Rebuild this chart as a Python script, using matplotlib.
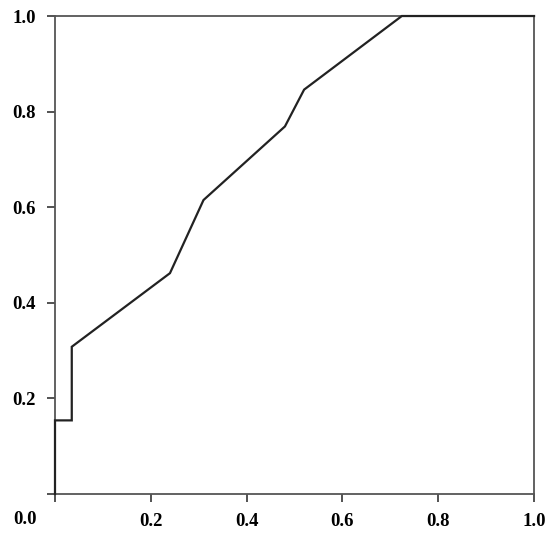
import matplotlib
matplotlib.use("Agg")
import matplotlib.pyplot as plt

fpr = [0.0, 0.0, 0.035, 0.035, 0.24, 0.31, 0.48, 0.52, 0.724, 1.0]
tpr = [0.0, 0.154, 0.154, 0.308, 0.462, 0.615, 0.769, 0.846, 1.0, 1.0]
ticks = [0.0, 0.2, 0.4, 0.6, 0.8, 1.0]
tick_labels = ["", "0.2", "0.4", "0.6", "0.8", "1.0"]
origin_label = "0.0"

fig = plt.figure(figsize=(5.5, 5.41), dpi=100)
ax = fig.add_axes([0.1, 0.0869, 0.871, 0.8835])
ax.plot(fpr, tpr, color="#222222", linewidth=1.6, solid_joinstyle="miter", clip_on=False, zorder=3)
ax.set_xlim(0, 1)
ax.set_ylim(0, 1)
font = dict(family="Liberation Serif", weight="bold", size=13.5)
ax.set_xticks(ticks)
ax.set_yticks(ticks)
ax.set_xticklabels(tick_labels, fontdict=font)
ax.set_yticklabels(tick_labels, fontdict=font)
ax.tick_params(direction="out", length=6, width=1.3, color="#444444", pad=8)
for s in ax.spines.values():
    s.set_color("#555555")
    s.set_linewidth(1.3)
fig.text(25 / 550, 1 - 519 / 541, origin_label, ha="center", va="center", **font)
fig.savefig("out.png", dpi=100)
